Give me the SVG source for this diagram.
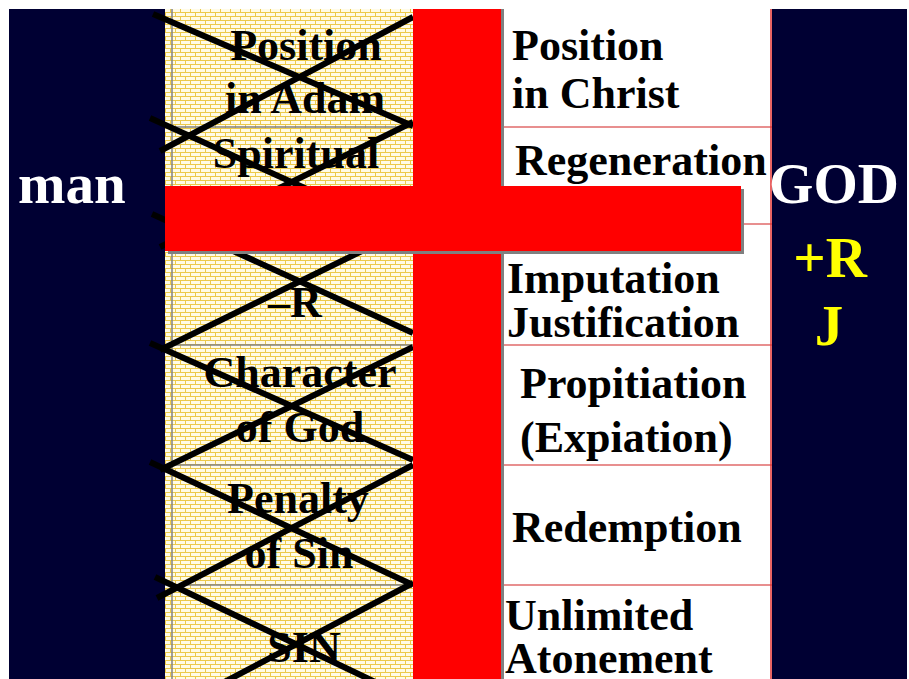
<svg xmlns="http://www.w3.org/2000/svg" width="909" height="679" viewBox="0 0 909 679">
<style>
  .t { font-family: "Liberation Serif", "Times New Roman", serif; font-weight: bold; font-size: 44px; fill: #000; }
  .big { font-family: "Liberation Serif", "Times New Roman", serif; font-weight: bold; font-size: 57px; }
  .x { stroke: #000; stroke-width: 6; fill: none; }
  .gl { stroke: #808080; stroke-width: 1.5; }
  .rl { stroke: #e06a6a; stroke-width: 1.5; }
</style>
<defs>
  <pattern id="brick" width="10" height="8" patternUnits="userSpaceOnUse">
    <rect width="10" height="8" fill="#fffbe6"/>
    <path d="M0 0.5H10M0 4.5H10M0.5 0V4.5M5.5 4.5V8" stroke="#ecc94a" stroke-width="1" fill="none"/>
  </pattern>
</defs>
<rect width="909" height="679" fill="#fff"/>
<g id="man-panel">
  <rect x="9" y="9" width="156" height="670" fill="#000033"/>
  <text class="big" x="18" y="203" fill="#fff" font-size="58">man</text>
</g>
<g id="god-panel">
  <rect x="772" y="9" width="135" height="670" fill="#000033"/>
</g>
<g id="old-column">
  <rect x="165" y="9" width="248" height="670" fill="url(#brick)"/>
  <line class="gl" x1="172" y1="9" x2="172" y2="679"/>
  <line class="gl" x1="165" y1="127" x2="413" y2="127"/>
  <line class="gl" x1="165" y1="345" x2="413" y2="345"/>
  <line class="gl" x1="165" y1="465" x2="413" y2="465"/>
  <line class="gl" x1="165" y1="585" x2="413" y2="585"/>
</g>
<g id="new-column">
  <rect x="502" y="9" width="270" height="670" fill="#fff"/>
  <line class="rl" x1="502" y1="127" x2="772" y2="127"/>
  <line class="rl" x1="502" y1="224" x2="772" y2="224"/>
  <line class="rl" x1="502" y1="345" x2="772" y2="345"/>
  <line class="rl" x1="502" y1="465" x2="772" y2="465"/>
  <line class="rl" x1="502" y1="585" x2="772" y2="585"/>
  <line x1="771" y1="9" x2="771" y2="679" stroke="#e03030" stroke-width="1.5"/>
</g>
<g id="old-labels">
  <text class="t" x="306" y="60" text-anchor="middle">Position</text>
  <text class="t" x="305" y="113" text-anchor="middle">in Adam</text>
  <text class="t" x="296" y="168" text-anchor="middle">Spiritual</text>
  <text class="t" x="295" y="317" text-anchor="middle">–R</text>
  <text class="t" x="300" y="387" text-anchor="middle">Character</text>
  <text class="t" x="300" y="442" text-anchor="middle">of God</text>
  <text class="t" x="298" y="513" text-anchor="middle">Penalty</text>
  <text class="t" x="299" y="568" text-anchor="middle">of Sin</text>
  <text class="t" x="304" y="662" text-anchor="middle">SIN</text>
</g>
<g id="crossings">
  <line class="x" x1="153" y1="14" x2="413" y2="126"/>
  <line class="x" x1="413" y1="17" x2="160" y2="151"/>
  <line class="x" x1="150" y1="118" x2="413" y2="237"/>
  <line class="x" x1="413" y1="122" x2="160" y2="247"/>
  <line class="x" x1="152" y1="214" x2="413" y2="333"/>
  <line class="x" x1="413" y1="226" x2="160" y2="350"/>
  <line class="x" x1="150" y1="343" x2="413" y2="460"/>
  <line class="x" x1="413" y1="347" x2="160" y2="470"/>
  <line class="x" x1="150" y1="462" x2="413" y2="585"/>
  <line class="x" x1="413" y1="465" x2="157" y2="598"/>
  <line class="x" x1="155" y1="577" x2="413" y2="700"/>
  <line class="x" x1="413" y1="583" x2="190" y2="700"/>
</g>
<g id="cross">
  <rect x="415" y="9" width="89" height="670" fill="#808080"/>
  <rect x="413" y="9" width="88" height="670" fill="#ff0000"/>
  <rect x="168" y="189" width="576" height="65" fill="#808080"/>
  <rect x="165" y="186" width="576" height="65" fill="#ff0000"/>
</g>
<g id="new-labels">
  <text class="t" x="512" y="60">Position</text>
  <text class="t" x="512" y="108">in Christ</text>
  <text class="t" x="515" y="175">Regeneration</text>
  <text class="t" x="507" y="293">Imputation</text>
  <text class="t" x="507" y="337">Justification</text>
  <text class="t" x="520" y="398">Propitiation</text>
  <text class="t" x="520" y="452">(Expiation)</text>
  <text class="t" x="512" y="542">Redemption</text>
  <text class="t" x="505" y="630">Unlimited</text>
  <text class="t" x="505" y="673">Atonement</text>
</g>
<g id="god-labels">
  <text class="big" x="834" y="203" fill="#fff" text-anchor="middle" font-size="56">GOD</text>
  <text class="big" x="830" y="277" fill="#ffff00" text-anchor="middle" font-size="56">+R</text>
  <text class="big" x="829" y="345" fill="#ffff00" text-anchor="middle" font-size="56">J</text>
</g>
</svg>
